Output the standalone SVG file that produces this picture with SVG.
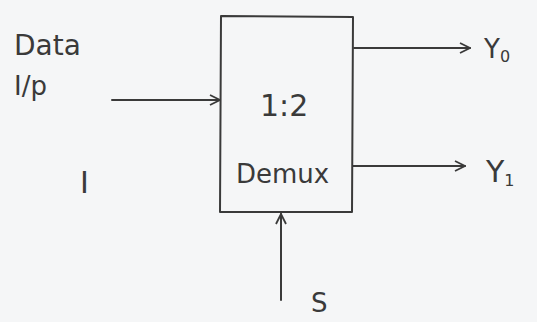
<svg xmlns="http://www.w3.org/2000/svg" width="537" height="322" viewBox="0 0 537 322">
<defs>
<style>
.ln{stroke:#3a3a3a;stroke-width:2;fill:none;stroke-linecap:round;stroke-linejoin:round}
.t{font-family:"DejaVu Sans","Liberation Sans",sans-serif;fill:#3a3a3a}
</style>
<marker id="ah" viewBox="0 0 12 12" refX="11" refY="6" markerWidth="12" markerHeight="12" markerUnits="userSpaceOnUse" orient="auto">
<path d="M1,1 L11,6 L1,11" fill="none" stroke="#3a3a3a" stroke-width="1.8"/>
</marker>
</defs>
<rect width="537" height="322" fill="#f5f6f7"/>
<g id="demux">
<path class="ln" d="M221,16 L353,17 L352,212 L220,212 Z"/>
<text class="t" x="260" y="116" font-size="30">1:2</text>
<text class="t" x="236" y="183" font-size="26">Demux</text>
</g>
<g id="input-label">
<text class="t" x="14" y="55" font-size="28">Data</text>
<text class="t" x="14" y="95" font-size="26">I/p</text>
<text class="t" x="80" y="193" font-size="30">I</text>
</g>
<g id="y0"><text class="t" x="484" y="58" font-size="26">Y<tspan font-size="16" dy="4">0</tspan></text></g>
<g id="y1"><text class="t" x="486" y="182" font-size="30">Y<tspan font-size="16" dy="4">1</tspan></text></g>
<g id="s"><text class="t" x="311" y="312" font-size="26">S</text></g>
<g id="connectors">
<line class="ln" x1="112" y1="100" x2="220" y2="100" marker-end="url(#ah)"/>
<line class="ln" x1="354" y1="48" x2="470" y2="48" marker-end="url(#ah)"/>
<line class="ln" x1="353" y1="166" x2="465" y2="166" marker-end="url(#ah)"/>
<line class="ln" x1="281" y1="300" x2="281" y2="214" marker-end="url(#ah)"/>
</g>
</svg>
